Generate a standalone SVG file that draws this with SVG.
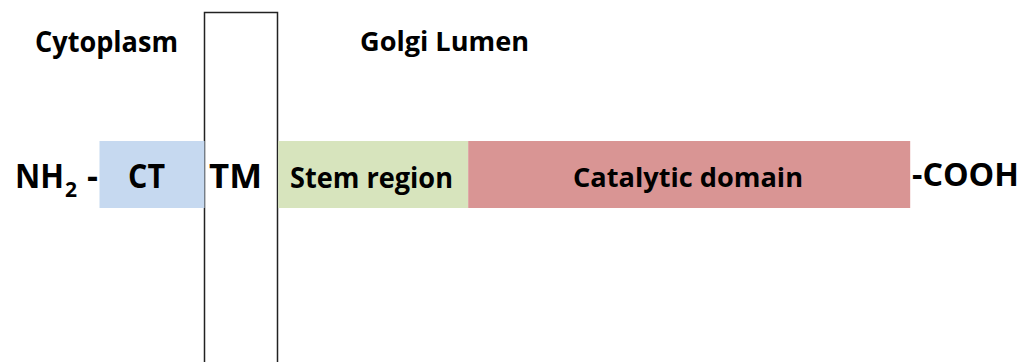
<svg xmlns="http://www.w3.org/2000/svg" width="1029" height="362" viewBox="0 0 1029 362">
<style>
.t{font-family:"Open Sans","Liberation Sans",sans-serif;font-weight:700;fill:#000;}
</style>
<rect width="1029" height="362" fill="#fff"/>
<g id="membrane">
<path d="M204.5,370 V12.5 H277.5 V370" fill="none" stroke="#222" stroke-width="1.5"/>
</g>
<g id="ct">
<rect x="99.5" y="141" width="105" height="67" fill="#c6d9f0"/>
<text class="t" x="128" y="188" font-size="34" textLength="37" lengthAdjust="spacingAndGlyphs">CT</text>
</g>
<g id="tm">
<text class="t" x="209" y="188" font-size="34" textLength="53" lengthAdjust="spacingAndGlyphs">TM</text>
</g>
<g id="stem">
<rect x="278.2" y="141" width="190" height="67" fill="#d7e4bd"/>
<text class="t" x="290" y="188" font-size="29" textLength="163" lengthAdjust="spacingAndGlyphs">Stem region</text>
</g>
<g id="catalytic">
<rect x="468.2" y="141" width="442" height="67" fill="#d99594"/>
<text class="t" x="573" y="187" font-size="27" textLength="230" lengthAdjust="spacingAndGlyphs">Catalytic domain</text>
</g>
<g id="nterm">
<text class="t" font-size="34"><tspan x="15" y="188" textLength="49" lengthAdjust="spacingAndGlyphs">NH</tspan><tspan x="65" y="197" font-size="21">2</tspan><tspan x="87" y="188">-</tspan></text>
</g>
<g id="cterm">
<text class="t" x="912" y="186" font-size="33" textLength="107" lengthAdjust="spacingAndGlyphs">-COOH</text>
</g>
<g id="labels">
<text class="t" x="35" y="52" font-size="28" textLength="143" lengthAdjust="spacingAndGlyphs">Cytoplasm</text>
<text class="t" x="360" y="51" font-size="26" textLength="169" lengthAdjust="spacingAndGlyphs">Golgi Lumen</text>
</g>
<g id="connectors"></g>
</svg>
